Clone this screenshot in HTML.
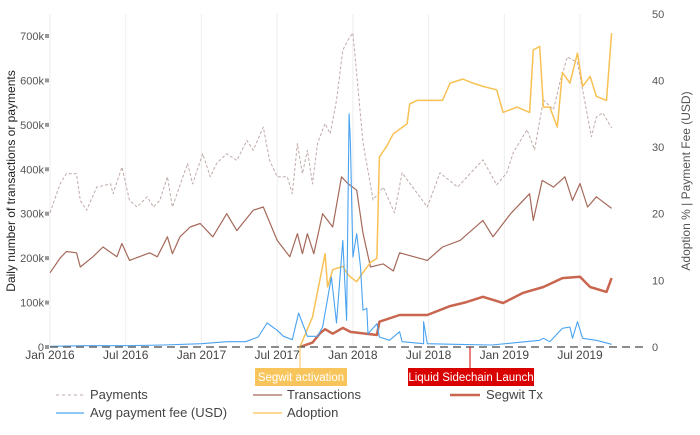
<!DOCTYPE html>
<html><head><meta charset="utf-8">
<style>
body{margin:0;background:#fff;font-family:"Liberation Sans",sans-serif;}
svg text{font-family:"Liberation Sans",sans-serif;}
</style></head>
<body>
<svg id="chart" width="700" height="430" xmlns="http://www.w3.org/2000/svg">
<g id="grid"></g>
<g id="series"></g>
<g id="axes"></g>
<text transform="translate(15,181) rotate(-90)" text-anchor="middle" font-size="12" fill="#222">Daily number of transactions or payments</text>
<text transform="translate(690,181) rotate(-90)" text-anchor="middle" font-size="12" fill="#555">Adoption % | Payment Fee (USD)</text>
<g>
<line x1="300" y1="347" x2="300" y2="368" stroke="#f8c154" stroke-width="1"/>
<rect x="255" y="368" width="92" height="18" fill="#f8c55c"/>
<text x="301" y="381" text-anchor="middle" font-size="11.5" fill="#fff">Segwit activation</text>
</g>
<g>
<line x1="470" y1="347" x2="470" y2="368" stroke="#d00" stroke-width="1"/>
<rect x="408" y="368" width="126" height="18" fill="#d90000"/>
<text x="471" y="381" text-anchor="middle" font-size="11.5" fill="#fff">Liquid Sidechain Launch</text>
</g>
<g id="legend">
<g><line x1="56" y1="395" x2="84" y2="395" stroke="#c0aaa8" stroke-dasharray="3,3"/><text x="90" y="399" font-size="13" fill="#444">Payments</text></g>
<g><line x1="253" y1="395" x2="282" y2="395" stroke="#a5695a" stroke-width="1.2"/><text x="287" y="399" font-size="13" fill="#444">Transactions</text></g>
<g><line x1="450" y1="395" x2="480" y2="395" stroke="#c8664f" stroke-width="2.5"/><text x="486" y="399" font-size="13" fill="#444">Segwit Tx</text></g>
<g><line x1="56" y1="413" x2="84" y2="413" stroke="#4aa3f0" stroke-width="1.2"/><text x="90" y="417" font-size="13" fill="#444">Avg payment fee (USD)</text></g>
<g><line x1="253" y1="413" x2="282" y2="413" stroke="#f8c154" stroke-width="1.2"/><text x="287" y="417" font-size="13" fill="#444">Adoption</text></g>
</g>
</svg>
<script>
// months since Jan 2016 ; values
const xTickLabels = ["Jan 2016","Jul 2016","Jan 2017","Jul 2017","Jan 2018","Jul 2018","Jan 2019","Jul 2019"];
const xTickMonths = [0,6,12,18,24,30,36,42];
const leftTicks = [0,100,200,300,400,500,600,700];
const leftTickLabels = ["0","100k","200k","300k","400k","500k","600k","700k"];
const rightTicks = [0,10,20,30,40,50];

const payM = [0,0.8,1.3,2.1,2.4,2.9,3.7,4.8,5.0,5.7,6.3,6.9,7.7,8.2,8.7,9.3,9.7,10.9,11.3,12.1,12.7,13.2,14.0,14.8,15.6,16.1,16.9,17.4,18.0,18.8,19.2,19.6,20.0,20.4,20.8,21.2,21.8,22.2,22.7,23.2,23.6,24.0,24.8,25.6,26.4,27.3,27.9,29.9,30.9,32.3,34.3,35.4,36.2,36.7,37.8,38.4,39.1,39.9,40.4,41.0,41.8,42.2,42.9,43.3,43.8,44.5];
const payV = [302,367,390,390,330,308,360,367,345,405,330,315,338,315,330,383,315,413,367,435,383,413,435,420,465,443,495,420,383,383,345,458,390,443,367,458,503,480,555,668,690,707,460,331,360,302,392,315,392,360,421,365,392,437,489,444,556,534,595,653,640,579,473,518,527,493];

const txM = [0,0.8,1.3,2.1,2.4,3.4,4.2,5.3,5.7,6.3,7.9,8.5,9.3,9.7,10.3,11.1,11.9,12.9,14.0,14.8,16.1,16.9,18.0,19.0,19.6,20.0,20.4,20.9,21.6,22.4,23.1,23.6,24.3,24.8,25.4,26.4,27.2,27.7,29.9,31.1,32.5,34.3,35.1,36.5,38.0,38.3,39.0,39.9,40.8,41.4,42.0,42.6,43.3,44.5];
const txV = [167,200,215,212,180,203,225,203,233,195,212,203,248,210,248,270,278,248,300,262,308,315,240,203,255,210,255,210,300,270,383,368,353,256,180,187,171,212,195,225,240,285,248,300,345,285,375,360,383,330,368,315,338,312];

const swM = [19.8,20.8,21.4,21.8,22.4,23.2,23.8,25.9,26.1,27.7,29.9,31.7,33.0,34.3,35.9,37.5,39.1,40.6,42.0,42.8,44.1,44.5];
const swV = [0,10,31,40,30,43,34,27,57,72,72,92,101,113,99,122,135,155,158,135,124,155];

const feeM = [0,3,6,9,12,14.0,15.5,16.5,17.2,18.0,18.5,19.2,19.7,20.4,21.2,21.6,22.3,22.7,23.2,23.5,23.7,23.8,24.0,24.3,24.6,24.8,25.1,25.2,25.9,26.1,26.9,27.7,27.9,29.6,29.6,29.9,32,35,38.8,39.1,39.6,40.6,41.2,41.4,41.8,42.2,43.3,44.5];
const feeV = [0.1,0.2,0.2,0.3,0.5,0.8,0.8,1.5,3.6,2.5,1.6,1.1,5.1,1.6,1.6,3.0,10.5,3.6,16,4,35,30.6,13.5,17,12,5.5,5.8,2,3.5,1.5,1,2.3,0.8,0.5,3.8,0.5,0.4,0.3,1,1.3,0.8,2.8,3.0,1.3,3.8,1.3,1.0,0.4];

const adM = [19.8,20.8,21.8,22.0,22.4,23.2,23.6,23.8,24.3,24.8,25.4,25.9,26.1,26.7,27.2,28.3,28.5,29.1,30.1,31.1,31.7,32.7,33.5,34.3,35.4,35.9,37.0,38.0,38.3,38.8,39.1,39.6,40.2,40.6,41.2,41.8,42.2,42.8,43.3,44.1,44.5];
const adV = [0,4.5,14,9,11.6,12.1,10.9,10.5,9.8,11.2,12.7,13.3,28.5,30.2,32,33.5,36.5,37,37,37,39.6,40.2,39.6,39.1,38.6,35.2,36,35.2,44.6,45.1,36,36,33,41.2,39.6,44.1,39.1,40.6,37.6,37,47.1];

const X0=50, PX=12.62, Y0=347;
const xs = m => X0 + m*PX;
const yL = v => Y0 - v*0.4443;       // thousands
const yR = v => Y0 - v*6.664;        // right axis units
const NS="http://www.w3.org/2000/svg";
function mk(tag, parent){const e=document.createElementNS(NS,tag);parent.appendChild(e);return e;}
const grid=document.getElementById('grid'), axes=document.getElementById('axes'), ser=document.getElementById('series');

xTickMonths.forEach((m,i)=>{
  const l=mk('line',grid);
  
  
  l.setAttribute('x1',xs(m));l.setAttribute('x2',xs(m));l.setAttribute('y1',14);l.setAttribute('y2',Y0);
  l.setAttribute('stroke','#eee');
  const t=mk('text',axes);
  
  
  t.setAttribute('x',xs(m));t.setAttribute('y',359);t.setAttribute('text-anchor','middle');
  t.setAttribute('font-size','12');t.setAttribute('fill','#444');t.textContent=xTickLabels[i];
});
leftTicks.forEach((v,i)=>{
  const t=mk('text',axes);
  
  
  t.setAttribute('x',44);t.setAttribute('y',yL(v)+4);t.setAttribute('text-anchor','end');
  t.setAttribute('font-size','11');t.setAttribute('fill','#555');t.textContent=leftTickLabels[i];
  const r=mk('rect',axes);
  
  
  r.setAttribute('x',45);r.setAttribute('y',yL(v)-2);r.setAttribute('width',4);r.setAttribute('height',4);r.setAttribute('fill','#999');
});
rightTicks.forEach(v=>{
  const t=mk('text',axes);
  
  
  t.setAttribute('x',652);t.setAttribute('y',yR(v)+4);
  t.setAttribute('font-size','11');t.setAttribute('fill','#555');t.textContent=v;
});
const zl=mk('line',axes);


zl.setAttribute('x1',50);zl.setAttribute('x2',648);zl.setAttribute('y1',Y0);zl.setAttribute('y2',Y0);
zl.setAttribute('stroke','#666');zl.setAttribute('stroke-width','1.5');zl.setAttribute('stroke-dasharray','8,5');

function series(M,V,yf,color,w,dash,name){
  const p=mk('path',ser);
  
  
  p.setAttribute('d',M.map((m,i)=>(i?'L':'M')+xs(m).toFixed(1)+','+yf(V[i]).toFixed(1)).join(''));
  p.setAttribute('fill','none');p.setAttribute('stroke',color);p.setAttribute('stroke-width',w);
  p.setAttribute('stroke-linejoin','round');
  if(dash)p.setAttribute('stroke-dasharray',dash);
}
series(payM,payV,yL,'#c0aaa8',1,'3,2','payments-line');
series(txM,txV,yL,'#a5695a',1.2,null,'transactions-line');
series(swM,swV,yL,'#c8664f',2.5,null,'segwit-tx-line');
series(adM,adV,yR,'#f8c154',1.5,null,'adoption-line');
series(feeM,feeV,yR,'#4aa3f0',1.1,null,'avg-fee-line');
</script>
</body></html>
